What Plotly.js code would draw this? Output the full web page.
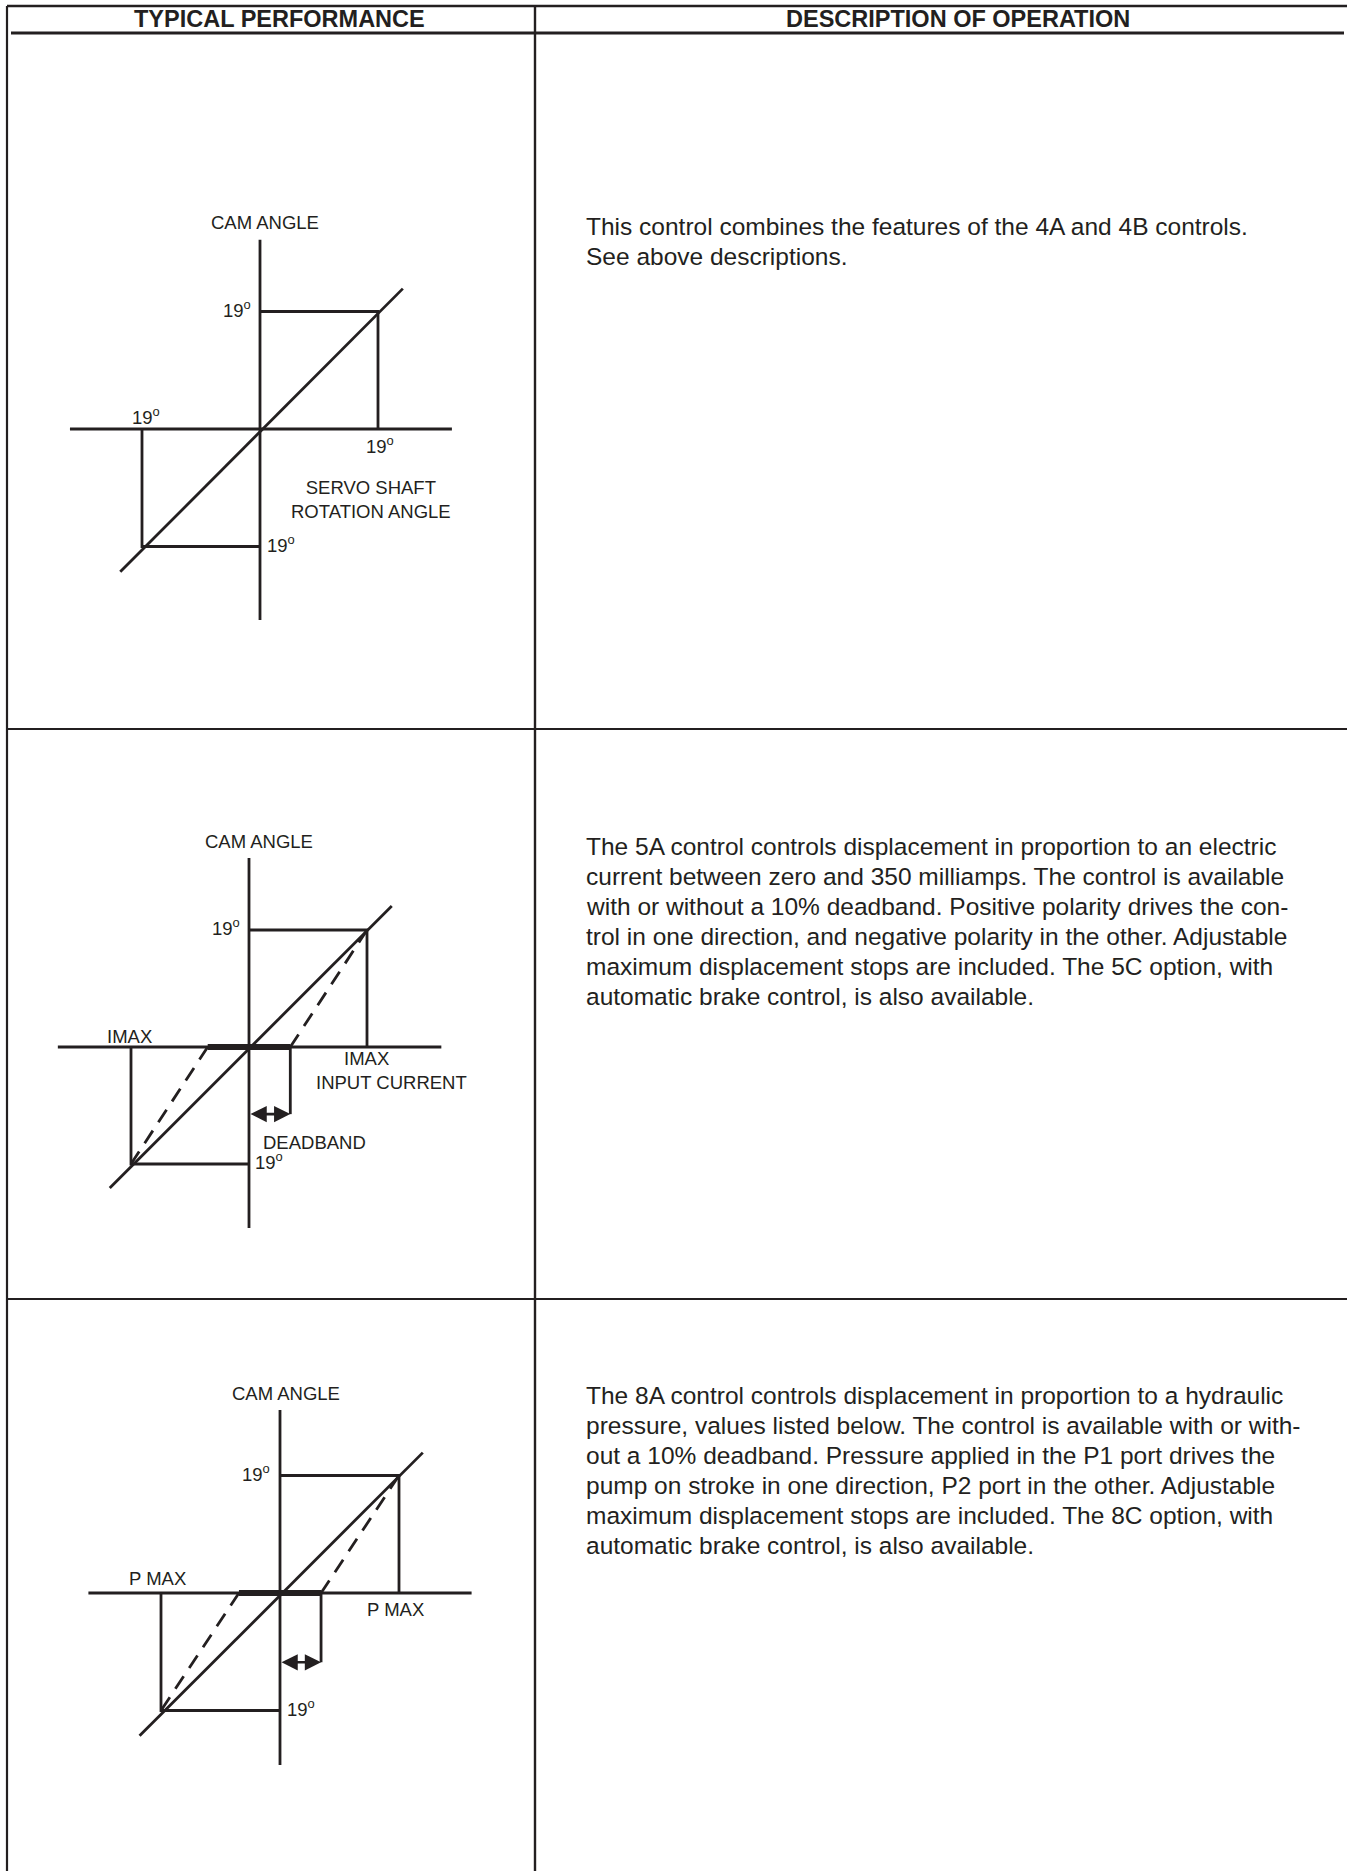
<!DOCTYPE html>
<html>
<head>
<meta charset="utf-8">
<script src="https://cdn.plot.ly/plotly-3.0.1.min.js"></script>
<style>
  html, body { margin: 0; padding: 0; background: #fff; }
  #chart { width: 1347px; height: 1871px; }
</style>
</head>
<body>
<div id="chart"></div>
<script>
var W = 1347, H = 1871;
var INK = '#231f20';
var FONT = 'Liberation Sans, Arial, Helvetica, sans-serif';

// ---- data ----
// 4A/4B: servo shaft angle (deg) vs cam angle (deg)
var servoAxis = [-30.6, 30.9];
var cam1Axis = [-30.9, 30.6];
var servoLine = [-22.5, 23.0];
var cam1Line = [-23.1, 22.7];
var servoStop = 19;
var cam1Stop = 19;

// 5A: input current (% of IMAX) vs cam angle (deg)
var currentAxis = [-162, 163];
var cam2Axis = [-29.4, 30.7];
var currentLine = [-118, 121];
var cam2Line = [-22.9, 22.9];
var currentMax = 100;
var cam2Stop = 19;
var currentDeadband = 35;
var deadbandMarkY2 = -10.9;

// 8A: pilot pressure (% of P MAX) vs cam angle (deg)
var pressureAxis = [-161, 161];
var cam3Axis = [-27.8, 29.6];
var pressureLine = [-118, 120];
var cam3Line = [-23.1, 22.7];
var pressureMax = 100;
var cam3Stop = 19;
var pressureDeadband = 34.5;
var deadbandMarkY3 = -11.2;

// header + description text
var headers = ['TYPICAL PERFORMANCE', 'DESCRIPTION OF OPERATION'];
var desc1 = [
  'This control combines the features of the 4A and 4B controls.',
  'See above descriptions.'
];
var desc2 = [
  'The 5A control controls displacement in proportion to an electric',
  'current between zero and 350 milliamps. The control is available',
  'with or without a 10% deadband. Positive polarity drives the con-',
  'trol in one direction, and negative polarity in the other. Adjustable',
  'maximum displacement stops are included. The 5C option, with',
  'automatic brake control, is also available.'
];
var desc3 = [
  'The 8A control controls displacement in proportion to a hydraulic',
  'pressure, values listed below. The control is available with or with-',
  'out a 10% deadband. Pressure applied in the P1 port drives the',
  'pump on stroke in one direction, P2 port in the other. Adjustable',
  'maximum displacement stops are included. The 8C option, with',
  'automatic brake control, is also available.'
];

// ---- page geometry (pixels) ----
var colDiv = 535;
var rowLines = [729, 1299];
var panels = [
  {n: '',  cx: 260, cy: 429,  sx: 118 / 19,  sy: 117.5 / 19, box: [12, 40, 530, 724]},
  {n: '2', cx: 249, cy: 1047, sx: 118 / 100, sy: 117 / 19, box: [12, 734, 530, 1294]},
  {n: '3', cx: 280, cy: 1593, sx: 119 / 100, sy: 117.5 / 19, box: [12, 1304, 530, 1866]}
];
var textTops = [226, 846, 1395];
var LINE_GAP = 30;
var LW = 2.8;

function seg(p, xs, ys, extra) {
  var t = {
    x: xs, y: ys, mode: 'lines', type: 'scatter',
    xaxis: 'x' + p.n, yaxis: 'y' + p.n,
    line: {color: INK, width: LW},
    hoverinfo: 'skip', showlegend: false
  };
  for (var k in extra) t[k] = extra[k];
  return t;
}

var data = [];
var annotations = [];
var shapes = [];

function lab(p, text, x, y, o) {
  o = o || {};
  annotations.push({
    xref: 'x' + p.n, yref: 'y' + p.n, x: x, y: y, text: text,
    showarrow: false, xanchor: o.xa || 'center', yanchor: o.ya || 'middle',
    xshift: o.dx || 0, yshift: o.dy || 0,
    font: {family: FONT, size: o.size || 18.5, color: INK}
  });
}

// double-headed deadband arrow
function arrow(p, x0, x1, y) {
  annotations.push({
    xref: 'x' + p.n, yref: 'y' + p.n, axref: 'x' + p.n, ayref: 'y' + p.n,
    x: x1, y: y, ax: x0, ay: y, text: '',
    showarrow: true, arrowside: 'end+start', arrowhead: 2, startarrowhead: 2,
    arrowsize: 1.25, startarrowsize: 1.25, arrowwidth: 2.6, arrowcolor: INK,
    standoff: 0, startstandoff: 0
  });
}

var DEG = '<sup>o</sup>';
var DASH = {color: INK, width: LW, dash: '15px,10px'};

// chart 1
var p = panels[0];
data.push(seg(p, servoAxis, [0, 0]));
data.push(seg(p, [0, 0], cam1Axis));
data.push(seg(p, servoLine, cam1Line));
data.push(seg(p, [0, servoStop, servoStop], [cam1Stop, cam1Stop, 0]));
data.push(seg(p, [0, -servoStop, -servoStop], [-cam1Stop, -cam1Stop, 0]));
lab(p, 'CAM ANGLE', 0, cam1Axis[1], {dy: 17, dx: 5});
lab(p, '19' + DEG, 0, cam1Stop, {xa: 'right', dx: -7, dy: 3});
lab(p, '19' + DEG, -servoStop, 0, {dx: 4, dy: 13});
lab(p, '19' + DEG, servoStop, 0, {dx: 2, dy: -16});
lab(p, '19' + DEG, 0, -cam1Stop, {xa: 'left', dx: 5, dy: 3});
lab(p, 'SERVO SHAFT<br>ROTATION ANGLE', 0, 0, {dx: 111, dy: -70});

// chart 2
p = panels[1];
data.push(seg(p, currentAxis, [0, 0]));
data.push(seg(p, [0, 0], cam2Axis));
data.push(seg(p, currentLine, cam2Line));
data.push(seg(p, [0, currentMax, currentMax], [cam2Stop, cam2Stop, 0]));
data.push(seg(p, [0, -currentMax, -currentMax], [-cam2Stop, -cam2Stop, 0]));
data.push(seg(p, [currentDeadband, currentMax], [0, cam2Stop], {line: DASH}));
data.push(seg(p, [-currentDeadband, -currentMax], [0, -cam2Stop], {line: DASH}));
data.push(seg(p, [-currentDeadband, currentDeadband], [0, 0], {line: {color: INK, width: 6}}));
data.push(seg(p, [currentDeadband, currentDeadband], [0, deadbandMarkY2]));
arrow(p, 0, currentDeadband, deadbandMarkY2);
lab(p, 'CAM ANGLE', 0, cam2Axis[1], {dy: 16, dx: 10});
lab(p, '19' + DEG, 0, cam2Stop, {xa: 'right', dx: -7, dy: 3});
lab(p, 'IMAX', -currentMax, 0, {dx: -2, dy: 11});
lab(p, 'IMAX', currentMax, 0, {dx: -1, dy: -11});
lab(p, 'INPUT CURRENT', 0, 0, {dx: 142, dy: -35});
lab(p, 'DEADBAND', 0, 0, {dx: 65, dy: -95});
lab(p, '19' + DEG, 0, -cam2Stop, {xa: 'left', dx: 4, dy: 3});

// chart 3
p = panels[2];
data.push(seg(p, pressureAxis, [0, 0]));
data.push(seg(p, [0, 0], cam3Axis));
data.push(seg(p, pressureLine, cam3Line));
data.push(seg(p, [0, pressureMax, pressureMax], [cam3Stop, cam3Stop, 0]));
data.push(seg(p, [0, -pressureMax, -pressureMax], [-cam3Stop, -cam3Stop, 0]));
data.push(seg(p, [pressureDeadband, pressureMax], [0, cam3Stop], {line: DASH}));
data.push(seg(p, [-pressureDeadband, -pressureMax], [0, -cam3Stop], {line: DASH}));
data.push(seg(p, [-pressureDeadband, pressureDeadband], [0, 0], {line: {color: INK, width: 6}}));
data.push(seg(p, [pressureDeadband, pressureDeadband], [0, deadbandMarkY3]));
arrow(p, 0, pressureDeadband, deadbandMarkY3);
lab(p, 'CAM ANGLE', 0, cam3Axis[1], {dy: 16, dx: 6});
lab(p, '19' + DEG, 0, cam3Stop, {xa: 'right', dx: -8, dy: 3});
lab(p, 'P MAX', -pressureMax, 0, {dx: -4, dy: 15});
lab(p, 'P MAX', pressureMax, 0, {dx: -4, dy: -16});
lab(p, '19' + DEG, 0, -cam3Stop, {xa: 'left', dx: 5, dy: 3});

// page frame on a pixel axis (x4/y4)
function line(x0, y0, x1, y1, w) {
  shapes.push({type: 'line', xref: 'x4', yref: 'y4', x0: x0, y0: y0, x1: x1, y1: y1,
    line: {color: INK, width: w || 2}});
}
line(7, 6, W, 6, 2.4);
line(7, 6, 7, H, 2.2);
line(11, 33, 1344, 33, 3.2);
line(colDiv, 6, colDiv, H, 2.4);
rowLines.forEach(function (y) { line(7, y, W, y, 2.2); });

annotations.push({xref: 'x4', yref: 'y4', x: 279, y: 19, text: '<b>' + headers[0] + '</b>',
  showarrow: false, xanchor: 'center', yanchor: 'middle', font: {family: FONT, size: 23.5, color: INK}});
annotations.push({xref: 'x4', yref: 'y4', x: 958, y: 19, text: '<b>' + headers[1] + '</b>',
  showarrow: false, xanchor: 'center', yanchor: 'middle', font: {family: FONT, size: 23.5, color: INK}});

[desc1, desc2, desc3].forEach(function (lines, b) {
  lines.forEach(function (t, i) {
    annotations.push({xref: 'x4', yref: 'y4', x: 584, y: textTops[b] + i * LINE_GAP, text: t,
      showarrow: false, xanchor: 'left', yanchor: 'middle',
      font: {family: FONT, size: 24.5, color: INK}});
  });
});

// invisible point so the page axis exists
data.push({x: [0], y: [0], xaxis: 'x4', yaxis: 'y4', mode: 'markers',
  marker: {opacity: 0}, hoverinfo: 'skip', showlegend: false});

var layout = {
  width: W, height: H,
  margin: {l: 0, r: 0, t: 0, b: 0},
  paper_bgcolor: '#fff', plot_bgcolor: 'rgba(0,0,0,0)',
  showlegend: false,
  annotations: annotations,
  shapes: shapes,
  xaxis4: {domain: [0, 1], range: [0, W], visible: false, fixedrange: true},
  yaxis4: {domain: [0, 1], range: [H, 0], visible: false, fixedrange: true}
};

panels.forEach(function (p) {
  var b = p.box;
  layout['xaxis' + p.n] = {
    domain: [b[0] / W, b[2] / W],
    range: [(b[0] - p.cx) / p.sx, (b[2] - p.cx) / p.sx],
    visible: false, fixedrange: true, anchor: 'y' + p.n
  };
  layout['yaxis' + p.n] = {
    domain: [1 - b[3] / H, 1 - b[1] / H],
    range: [(p.cy - b[3]) / p.sy, (p.cy - b[1]) / p.sy],
    visible: false, fixedrange: true, anchor: 'x' + p.n
  };
});

Plotly.newPlot('chart', data, layout, {staticPlot: true, displayModeBar: false});
</script>
</body>
</html>
